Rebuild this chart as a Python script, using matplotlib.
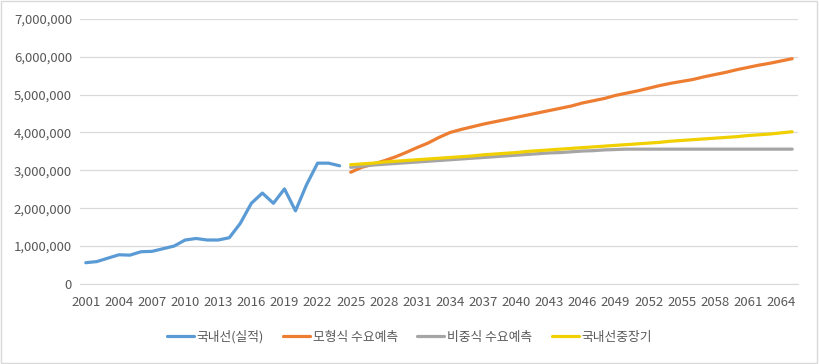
import matplotlib
matplotlib.use("Agg")
import matplotlib.pyplot as plt
from matplotlib.ticker import FuncFormatter
from matplotlib.patches import Rectangle

plt.rcParams['font.family'] = ['Noto Sans CJK KR', 'DejaVu Sans']

actual_years = list(range(2001, 2025))
actual = [560000, 590000, 680000, 770000, 760000, 850000, 860000, 930000, 1000000, 1160000,
          1200000, 1160000, 1160000, 1220000, 1600000, 2130000, 2400000, 2130000, 2510000, 1930000,
          2620000, 3190000, 3190000, 3120000]

fc_years = list(range(2025, 2066))
model = [2950000, 3080000, 3160000, 3250000, 3350000, 3470000, 3600000, 3720000, 3870000, 4000000,
         4080000, 4150000, 4220000, 4280000, 4340000, 4400000, 4460000, 4520000, 4580000, 4640000,
         4700000, 4780000, 4840000, 4900000, 4980000, 5040000, 5100000, 5170000, 5240000, 5300000,
         5350000, 5400000, 5470000, 5530000, 5590000, 5660000, 5720000, 5780000, 5830000, 5890000,
         5950000]
share = [3080000, 3110000, 3140000, 3160000, 3180000, 3200000, 3220000, 3240000, 3260000, 3280000,
         3300000, 3320000, 3340000, 3360000, 3380000, 3400000, 3420000, 3440000, 3460000, 3470000,
         3490000, 3510000, 3520000, 3540000, 3550000, 3560000, 3560000, 3560000, 3560000, 3560000,
         3560000, 3560000, 3560000, 3560000, 3560000, 3560000, 3560000, 3560000, 3560000, 3560000,
         3560000]
longterm = [3150000, 3170000, 3190000, 3220000, 3240000, 3260000, 3280000, 3300000, 3320000, 3340000,
            3360000, 3380000, 3410000, 3430000, 3450000, 3470000, 3500000, 3520000, 3540000, 3560000,
            3580000, 3600000, 3620000, 3640000, 3660000, 3680000, 3700000, 3720000, 3740000, 3770000,
            3790000, 3810000, 3830000, 3850000, 3870000, 3890000, 3920000, 3940000, 3960000, 3990000,
            4020000]

labels = ['국내선(실적)', '모형식 수요예측', '비중식 수요예측', '국내선중장기']
colors = ['#5B9BD5', '#ED7D31', '#A5A5A5', '#F0D000']
tick_years = list(range(2001, 2065, 3))

fig = plt.figure(figsize=(8.19, 3.64), dpi=100)
ax = fig.add_axes([0.098, 0.22, 0.876, 0.728])

ax.plot(actual_years, actual, color=colors[0], lw=2.3, label=labels[0], solid_capstyle='round')
ax.plot(fc_years, model, color=colors[1], lw=2.3, label=labels[1], solid_capstyle='round')
ax.plot(fc_years, share, color=colors[2], lw=2.3, label=labels[2], solid_capstyle='round')
ax.plot(fc_years, longterm, color=colors[3], lw=2.3, label=labels[3], solid_capstyle='round')

ax.set_xlim(2000.5, 2065.5)
ax.set_ylim(0, 7000000)
ax.set_yticks(range(0, 7000001, 1000000))
ax.yaxis.set_major_formatter(FuncFormatter(lambda v, p: f"{int(v):,}"))
ax.set_xticks(tick_years)
ax.tick_params(axis='both', length=0, labelsize=9.5, labelcolor='#595959')
ax.tick_params(axis='x', pad=9)
ax.tick_params(axis='y', pad=6)
ax.grid(axis='y', color='#D9D9D9', lw=0.9)
ax.set_axisbelow(True)
for s in ['top', 'right', 'left']:
    ax.spines[s].set_visible(False)
ax.spines['bottom'].set_color('#D9D9D9')

handles, lbls = ax.get_legend_handles_labels()
leg = fig.legend(handles, lbls, loc='center', bbox_to_anchor=(0.5, 0.074), ncol=4, frameon=False,
                 fontsize=9.2, handlelength=2.1, columnspacing=1.5, handletextpad=0.25)
for t in leg.get_texts():
    t.set_color('#595959')

fig.patches.append(Rectangle((0.001, 0.002), 0.997, 0.995, transform=fig.transFigure,
                             fill=False, edgecolor='#D9D9D9', lw=1))

fig.savefig('out.png', dpi=100)
